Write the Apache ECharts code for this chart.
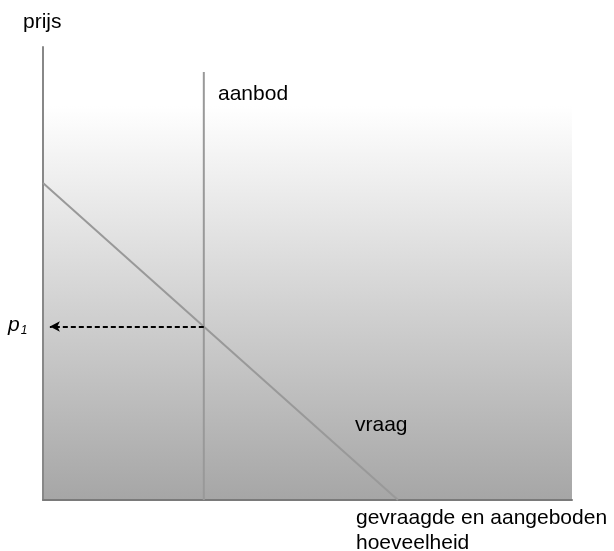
<!DOCTYPE html>
<html><head><meta charset="utf-8">
<script src="https://cdn.jsdelivr.net/npm/echarts@6/dist/echarts.min.js"></script>
<style>html,body{margin:0;padding:0;background:#fff}#c{width:614px;height:551px}</style>
</head><body><div id="c"></div>
<script>
// Data (abstract units: x 0..100, y 0..100)
var demand = [[0, 70], [67.1, 0]];      // vraag
var supply = [[30.4, 0], [30.4, 94.5]]; // aanbod
var p1 = 38.3;
var qEq = 30.4;
var arrowEndX = 1.3;
var labels = {
  yName: 'prijs',
  xName: 'gevraagde en aangeboden\nhoeveelheid',
  supply: 'aanbod',
  demand: 'vraag'
};

var chart = echarts.init(document.getElementById('c'));
var font = '"Liberation Sans", Arial, sans-serif';
chart.setOption({
  animation: false,
  grid: {
    left: 43, right: 42, top: 47, bottom: 51, show: true, borderWidth: 0,
    backgroundColor: {
      type: 'linear', x: 0, y: 0, x2: 0, y2: 1,
      colorStops: [
        {offset: 0, color: '#ffffff'},
        {offset: 0.13, color: '#ffffff'},
        {offset: 1, color: '#a6a6a6'}
      ]
    }
  },
  xAxis: {
    type: 'value', min: 0, max: 100,
    axisLine: {show: true, onZero: false, lineStyle: {color: '#7a7a7a', width: 2}},
    axisTick: {show: false}, axisLabel: {show: false}, splitLine: {show: false}
  },
  yAxis: {
    type: 'value', min: 0, max: 100,
    axisLine: {show: true, onZero: false, lineStyle: {color: '#888888', width: 2}},
    axisTick: {show: false}, axisLabel: {show: false}, splitLine: {show: false}
  },
  series: [
    {
      type: 'line', data: demand, symbol: 'none',
      lineStyle: {color: '#999999', width: 2}, z: 3
    },
    {
      type: 'line', data: supply, symbol: 'none',
      lineStyle: {color: '#999999', width: 2}, z: 3,
      markLine: {
        silent: true, animation: false,
        label: {show: false},
        lineStyle: {color: '#000', type: [5, 3], width: 2},
        symbolSize: [8, 10],
        data: [[
          {coord: [qEq, p1], symbol: 'none'},
          {coord: [arrowEndX, p1], symbol: 'arrow'}
        ]]
      }
    }
  ],
  graphic: [
    {type: 'text', left: 23, top: 12, style: {text: labels.yName, font: '21px ' + font, fill: '#000'}},
    {type: 'text', left: 218, top: 84, style: {text: labels.supply, font: '21px ' + font, fill: '#000'}},
    {type: 'text', left: 355, top: 415, style: {text: labels.demand, font: '21px ' + font, fill: '#000'}},
    {type: 'text', left: 356, top: 506, style: {text: labels.xName, font: '21px ' + font, lineHeight: 25, fill: '#000'}},
    {type: 'text', left: 8, top: 315, style: {
      text: '{p|p}{s|1}',
      rich: {
        p: {font: 'italic 21px ' + font, fill: '#000'},
        s: {font: 'italic 12px ' + font, fill: '#000', padding: [10, 0, 0, 1]}
      }
    }}
  ]
});
</script></body></html>
